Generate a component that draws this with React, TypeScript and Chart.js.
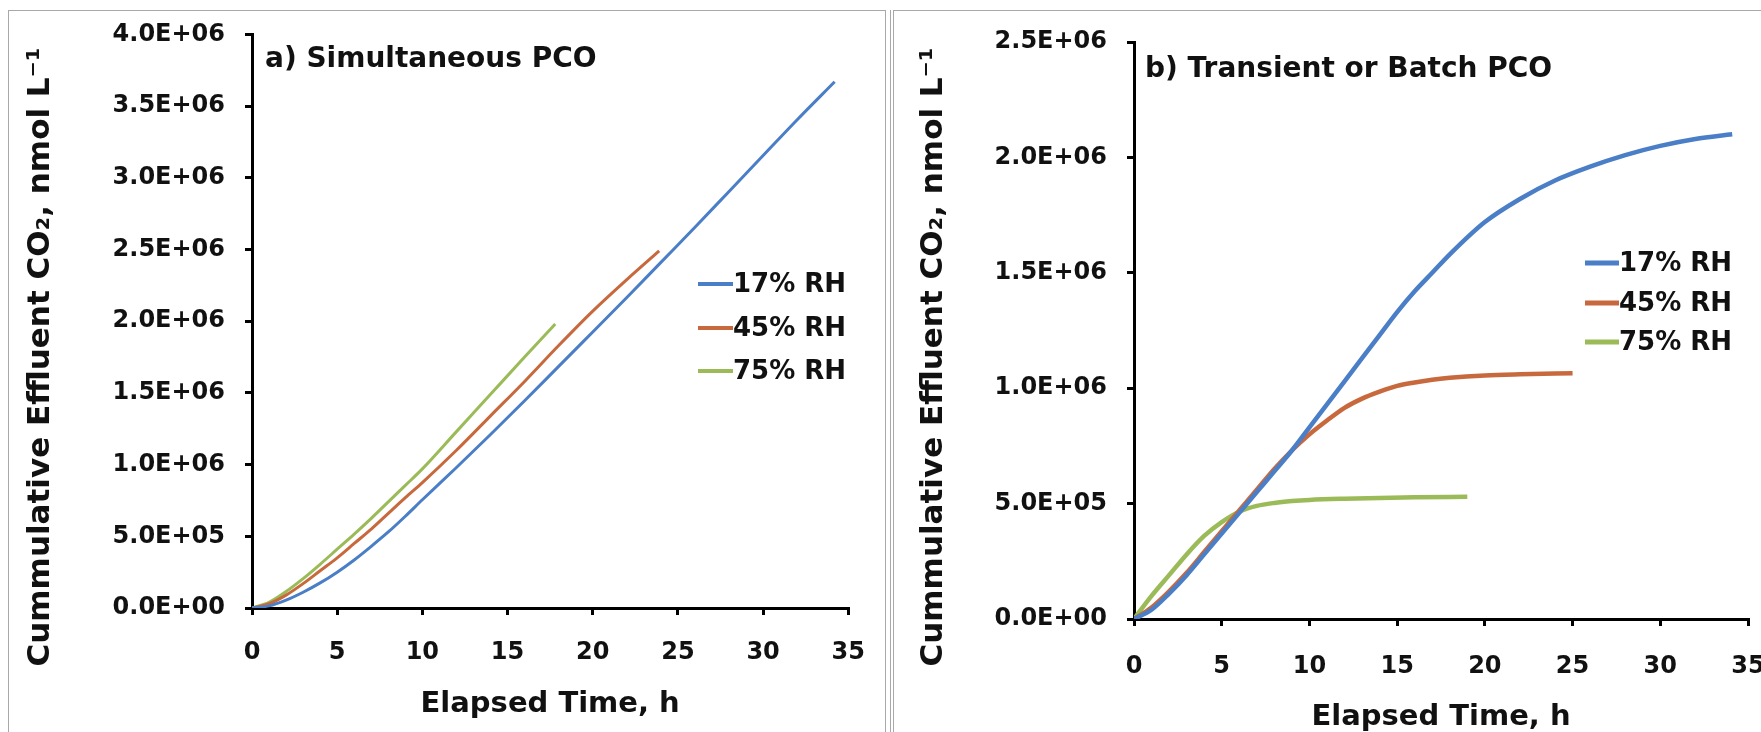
import React, { useEffect, useRef } from 'react';
import { Chart, registerables } from 'chart.js';

Chart.register(...registerables);

// ---------- data ----------
const seriesLabels = ['17% RH', '45% RH', '75% RH'];
const seriesColors = ['#4A7EC7', '#C8693D', '#9BBB59'];

const xTickValues = [0, 5, 10, 15, 20, 25, 30, 35];
const yTickValuesA = [0, 5e5, 1e6, 1.5e6, 2e6, 2.5e6, 3e6, 3.5e6, 4e6];
const yTickValuesB = [0, 5e5, 1e6, 1.5e6, 2e6, 2.5e6];

const panelTitleA = 'a) Simultaneous PCO';
const panelTitleB = 'b) Transient or Batch PCO';
const xAxisTitle = 'Elapsed Time, h';
const yAxisTitle = 'Cummulative Effluent CO\u2082, nmol L\u207B\u00B9';

// Panel a (simultaneous PCO)
const timeA17 = [0, 1, 2, 3, 4, 5, 6, 7, 8, 9, 10, 12, 14, 16, 18, 20, 22, 24, 26, 28, 30, 32, 34.2];
const co2A17 = [0, 0.015e6, 0.055e6, 0.11e6, 0.175e6, 0.25e6, 0.335e6, 0.43e6, 0.53e6, 0.64e6, 0.755e6, 0.98e6, 1.21e6, 1.445e6, 1.685e6, 1.925e6, 2.165e6, 2.41e6, 2.655e6, 2.905e6, 3.155e6, 3.405e6, 3.67e6];
const timeA45 = [0, 1, 2, 3, 4, 5, 6, 7, 8, 9, 10, 12, 14, 16, 18, 20, 22, 23.9];
const co2A45 = [0, 0.03e6, 0.09e6, 0.17e6, 0.26e6, 0.35e6, 0.45e6, 0.55e6, 0.66e6, 0.77e6, 0.875e6, 1.1e6, 1.34e6, 1.58e6, 1.83e6, 2.07e6, 2.29e6, 2.49e6];
const timeA75 = [0, 1, 2, 3, 4, 5, 6, 7, 8, 9, 10, 12, 14, 16, 17.8];
const co2A75 = [0, 0.04e6, 0.115e6, 0.205e6, 0.305e6, 0.41e6, 0.515e6, 0.625e6, 0.74e6, 0.855e6, 0.97e6, 1.23e6, 1.49e6, 1.75e6, 1.98e6];

// Panel b (transient or batch PCO)
const timeB17 = [0, 1, 2, 3, 4, 5, 6, 7, 8, 9, 10, 11, 12, 13, 14, 15, 16, 17, 18, 20, 22, 24, 26, 28, 30, 32, 34.1];
const co2B17 = [0, 0.04e6, 0.11e6, 0.19e6, 0.28e6, 0.37e6, 0.46e6, 0.55e6, 0.64e6, 0.73e6, 0.83e6, 0.93e6, 1.03e6, 1.13e6, 1.23e6, 1.33e6, 1.42e6, 1.5e6, 1.58e6, 1.72e6, 1.82e6, 1.9e6, 1.96e6, 2.01e6, 2.05e6, 2.08e6, 2.1e6];
const timeB45 = [0, 1, 2, 3, 4, 5, 6, 7, 8, 9, 10, 11, 12, 13, 14, 15, 16, 17, 18, 20, 22, 25];
const co2B45 = [0, 0.05e6, 0.12e6, 0.2e6, 0.29e6, 0.38e6, 0.47e6, 0.56e6, 0.65e6, 0.73e6, 0.8e6, 0.86e6, 0.915e6, 0.955e6, 0.985e6, 1.01e6, 1.025e6, 1.037e6, 1.045e6, 1.055e6, 1.06e6, 1.065e6];
const timeB75 = [0, 1, 2, 3, 4, 5, 6, 7, 8, 9, 10, 12, 14, 16, 19];
const co2B75 = [0, 0.1e6, 0.19e6, 0.28e6, 0.36e6, 0.42e6, 0.465e6, 0.49e6, 0.503e6, 0.511e6, 0.516e6, 0.521e6, 0.524e6, 0.527e6, 0.53e6];

// ---------- helpers ----------
const FONT = '"DejaVu Sans", "Liberation Sans", Arial, sans-serif';

function sciLabel(v: number): string {
  const [m, e] = v.toExponential(1).split('e');
  const n = parseInt(e, 10);
  return m + 'E' + (n < 0 ? '-' : '+') + String(Math.abs(n)).padStart(2, '0');
}

function pairs(xs: number[], ys: number[]) {
  return xs.map((x, i) => ({ x, y: ys[i] }));
}

const panelTextPlugin = {
  id: 'panelText',
  afterDraw(chart: any, _args: any, opts: any) {
    const { ctx, chartArea } = chart;
    ctx.save();
    ctx.fillStyle = '#111';
    // panel title
    ctx.font = `bold ${opts.titleSize}px ${FONT}`;
    ctx.textAlign = 'left';
    ctx.textBaseline = 'alphabetic';
    ctx.fillText(opts.title, chartArea.left + opts.titleDx, opts.titleBaseline);
    // y axis title
    ctx.save();
    ctx.translate(opts.yTitleX, opts.yTitleY);
    ctx.rotate(-Math.PI / 2);
    ctx.font = `bold ${opts.yTitleSize}px ${FONT}`;
    ctx.textAlign = 'center';
    ctx.textBaseline = 'middle';
    ctx.fillText(opts.yTitle, 0, 0);
    ctx.restore();
    // legend
    ctx.font = `bold ${opts.legendSize}px ${FONT}`;
    ctx.textAlign = 'left';
    ctx.textBaseline = 'middle';
    chart.data.datasets.forEach((ds: any, i: number) => {
      const y = opts.legendY[i];
      ctx.strokeStyle = ds.borderColor;
      ctx.lineWidth = opts.legendLineWidth;
      ctx.beginPath();
      ctx.moveTo(opts.legendX, y);
      ctx.lineTo(opts.legendX + opts.legendLineLen, y);
      ctx.stroke();
      ctx.fillStyle = '#111';
      ctx.fillText(ds.label, opts.legendX + opts.legendLineLen, y + 1);
    });
    ctx.restore();
  },
};

function makeConfig(p: any) {
  return {
    type: 'line',
    data: {
      datasets: p.series.map((s: any, i: number) => ({
        label: seriesLabels[i],
        data: pairs(s[0], s[1]),
        borderColor: seriesColors[i],
        backgroundColor: seriesColors[i],
        borderWidth: p.lineWidth,
        pointRadius: 0,
        fill: false,
        tension: 0.4,
        cubicInterpolationMode: 'monotone',
      })),
    },
    plugins: [panelTextPlugin],
    options: {
      animation: false,
      responsive: false,
      devicePixelRatio: 1,
      layout: { padding: { left: 0, right: p.padRight, top: p.padTop, bottom: 0 } },
      plugins: {
        legend: { display: false },
        tooltip: { enabled: false },
        panelText: p.text,
      },
      scales: {
        x: {
          type: 'linear',
          min: 0,
          max: 35,
          afterBuildTicks: (scale: any) => {
            scale.ticks = xTickValues.map((v) => ({ value: v }));
          },
          afterFit: (scale: any) => {
            scale.height = p.xAxisHeight;
          },
          ticks: {
            font: { family: FONT, size: 24, weight: 'bold' },
            color: '#111',
            padding: p.xTickPad,
            maxRotation: 0,
            autoSkip: false,
          },
          grid: { display: true, drawOnChartArea: false, drawTicks: true, tickLength: 7, lineWidth: 3, color: '#000' },
          border: { display: true, width: 3, color: '#000' },
          title: {
            display: true,
            text: xAxisTitle,
            color: '#111',
            font: { family: FONT, size: 29, weight: 'bold' },
            padding: { top: 0, bottom: p.xTitlePad },
          },
        },
        y: {
          type: 'linear',
          min: 0,
          max: p.yTicks[p.yTicks.length - 1],
          afterBuildTicks: (scale: any) => {
            scale.ticks = p.yTicks.map((v: number) => ({ value: v }));
          },
          afterFit: (scale: any) => {
            scale.width = p.yAxisWidth;
          },
          ticks: {
            font: { family: FONT, size: 24, weight: 'bold' },
            color: '#111',
            padding: 20,
            callback: (v: any) => sciLabel(Number(v)),
          },
          grid: { display: true, drawOnChartArea: false, drawTicks: true, tickLength: 7, lineWidth: 3, color: '#000' },
          border: { display: true, width: 3, color: '#000' },
        },
      },
    },
  };
}

function Panel(props: { cfg: any; width: number; height: number; left: number }) {
  const ref = useRef<HTMLCanvasElement | null>(null);
  useEffect(() => {
    if (!ref.current) return;
    const chart = new Chart(ref.current, makeConfig(props.cfg) as any);
    return () => chart.destroy();
  }, []);
  return (
    <canvas
      ref={ref}
      width={props.width}
      height={props.height}
      style={{ position: 'absolute', left: props.left, top: 0, width: props.width, height: props.height }}
    />
  );
}

const CANVAS_H = 760;

const cfgA = {
  series: [[timeA17, co2A17], [timeA45, co2A45], [timeA75, co2A75]],
  yTicks: yTickValuesA,
  lineWidth: 3,
  padRight: 28,
  padTop: 32,
  yAxisWidth: 252,
  xAxisHeight: CANVAS_H - 608,
  xTickPad: 23,
  xTitlePad: 38,
  text: {
    title: panelTitleA,
    titleSize: 28,
    titleDx: 13,
    titleBaseline: 67,
    yTitle: yAxisTitle,
    yTitleSize: 31,
    yTitleX: 41,
    yTitleY: 357,
    legendSize: 26,
    legendX: 698,
    legendLineLen: 35,
    legendLineWidth: 4,
    legendY: [284, 328, 371],
  },
};

const cfgB = {
  series: [[timeB17, co2B17], [timeB45, co2B45], [timeB75, co2B75]],
  yTicks: yTickValuesB,
  lineWidth: 4.5,
  padRight: 44,
  padTop: 42,
  yAxisWidth: 242,
  xAxisHeight: CANVAS_H - 619,
  xTickPad: 26,
  xTitlePad: 25,
  text: {
    title: panelTitleB,
    titleSize: 28,
    titleDx: 11,
    titleBaseline: 77,
    yTitle: yAxisTitle,
    yTitleSize: 31,
    yTitleX: 42,
    yTitleY: 357,
    legendSize: 26,
    legendX: 693,
    legendLineLen: 34,
    legendLineWidth: 5,
    legendY: [263, 303, 342],
  },
};

export default function App() {
  return (
    <div
      style={{
        position: 'fixed',
        left: 0,
        top: 0,
        width: 1761,
        height: 732,
        overflow: 'hidden',
        background: '#fff',
      }}
    >
      <div style={{ position: 'absolute', left: 8, top: 10, width: 878, height: 760, border: '1px solid #a8a8a8', boxSizing: 'border-box' }} />
      <div style={{ position: 'absolute', left: 890, top: 10, width: 1, height: 760, background: '#a8a8a8' }} />
      <div style={{ position: 'absolute', left: 893, top: 10, width: 900, height: 760, border: '1px solid #a8a8a8', boxSizing: 'border-box' }} />
      <Panel cfg={cfgA} width={888} height={CANVAS_H} left={0} />
      <Panel cfg={cfgB} width={900} height={CANVAS_H} left={892} />
    </div>
  );
}
